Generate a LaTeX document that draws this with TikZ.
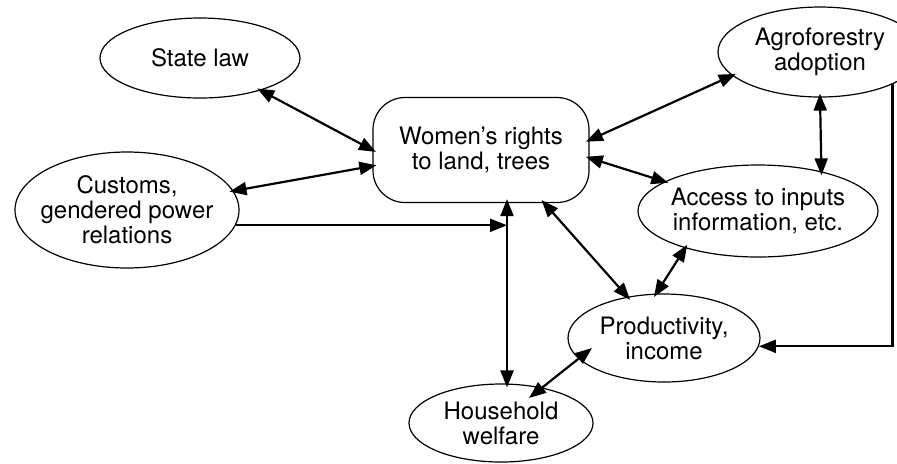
\documentclass[tikz,border=0pt]{standalone}
\usepackage{fontspec}
\setmainfont{TeX Gyre Heros}
\usetikzlibrary{shapes.geometric,arrows.meta}

\begin{document}
\begin{tikzpicture}[x=0.5pt, y=-0.5pt, font=\fontsize{12}{12.5}\selectfont,
    oval/.style={ellipse, draw, line width=0.6pt, align=center, inner xsep=-10pt, inner ysep=-4pt},
    pill/.style={rectangle, rounded corners=16pt, draw, line width=0.6pt, align=center},
    twoway/.style={{Triangle[length=8.5pt,width=6.5pt]}-{Triangle[length=8.5pt,width=6.5pt]}, line width=1.1pt, shorten <=-2pt, shorten >=-2pt},
    oneway/.style={-{Triangle[length=8.5pt,width=6.5pt]}, line width=1.1pt}]
      \useasboundingbox (0,0) rectangle (897,463);
      \node (state) [oval, minimum width=100pt, minimum height=40pt] at (200,58) {State law};
      \node (customs) [oval, minimum width=112pt, minimum height=58pt] at (127,210) {Customs,\\gendered power\\relations};
      \node (women) [pill, minimum width=108pt, minimum height=52.5pt] at (481,150) {Women's rights\\to land, trees};
      \node (agro) [oval, minimum width=102pt, minimum height=45pt] at (820,52) {Agroforestry\\adoption};
      \node (access) [oval, minimum width=120pt, minimum height=46pt] at (758,211) {Access to inputs\\information, etc.};
      \node (prod) [oval, minimum width=96pt, minimum height=44pt] at (664,338) {Productivity,\\income};
      \node (house) [oval, minimum width=92pt, minimum height=39pt] at (501,423) {Household\\welfare};
      \coordinate (spine) at ([xshift=13pt]women.south |- customs.-8);
      \draw [twoway] (state) -- (women.west);
      \draw [twoway] (customs) -- ([yshift=-8pt]women.west);
      \draw [oneway] (customs.-8) -- (spine);
      \draw [twoway] ([xshift=13pt]women.south) -- ([xshift=3pt]house.north);
      \draw [twoway] ([yshift=5pt]women.east) -- (agro.195);
      \draw [twoway] ([yshift=-4pt]women.east) -- (access);
      \draw [twoway] (women.-40) -- (prod);
      \draw [twoway] (access.-153) -- (prod.100);
      \draw [twoway] (agro.south) -- (access.32);
      \draw [oneway] (agro.-24) |- (prod.-5);
      \draw [twoway, shorten <=0pt, shorten >=0pt] ([shift={(14pt,12.5pt)}]house.center) -- ([shift={(-36pt,-5pt)}]prod.center);
\end{tikzpicture}
\end{document}
